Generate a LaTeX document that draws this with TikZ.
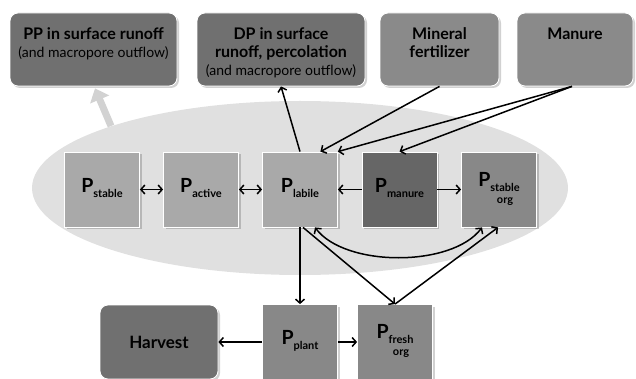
\documentclass[tikz,border=0pt]{standalone}
\usepackage{fontspec}
\setmainfont{Lato}
\usetikzlibrary{arrows.meta,positioning,shadows}
\definecolor{poolbg}{HTML}{E0E0E0}
\definecolor{lightpool}{HTML}{A9A9A9}
\definecolor{midpool}{HTML}{888888}
\definecolor{darkpool}{HTML}{666666}
\definecolor{lossbox}{HTML}{707070}
\definecolor{inbox}{HTML}{8A8A8A}
\definecolor{flowgray}{HTML}{D2D2D2}
\tikzset{
  sq/.style={draw=white,line width=0.8pt,minimum width=75pt,minimum height=75pt,inner sep=0pt,
    drop shadow={shadow xshift=2pt,shadow yshift=-2pt,fill=black,opacity=0.18}},
  topbox/.style={draw=white,line width=0.8pt,rounded corners=8pt,minimum height=73pt,inner sep=0pt,
    drop shadow={shadow xshift=2pt,shadow yshift=-2pt,fill=black,opacity=0.18}},
  boxtxt/.style={align=center,inner sep=0pt,font=\fontsize{14}{18}\selectfont},
  link/.style={line width=1.5pt,black,>={Straight Barb[length=4pt,width=9pt]}},
  outflow/.style={line width=7pt,flowgray,-{Triangle[length=12pt,width=20pt]}}
}
\newcommand{\psym}[1]{{\fontsize{19.5}{19.5}\selectfont\bfseries P}\raisebox{-5pt}{\fontsize{11}{12}\selectfont\bfseries\begin{tabular}[t]{@{}c@{}}#1\end{tabular}}}
\newcommand{\hd}[1]{{\fontsize{16}{18}\selectfont\bfseries #1}}
\begin{document}
\begin{tikzpicture}[x=1pt,y=-1pt]
  \useasboundingbox (0,0) rectangle (636,379);
  %soil pool area
  \fill[poolbg] (300,188) ellipse (268 and 87);

  %loss and input boxes on top
  \node[topbox,fill=lossbox,minimum width=167pt] (pp) at (93.5,49.5) {};
  \node[topbox,fill=lossbox,minimum width=168pt] (dp) at (281,49.5) {};
  \node[topbox,fill=inbox,minimum width=119pt] (mineral) at (439.5,49.5) {};
  \node[topbox,fill=inbox,minimum width=116pt] (manure) at (575,49.5) {};
  \node[boxtxt,below=15pt of pp.north] (pptxt) {\hd{PP in surface runoff}\\(and macropore outflow)};
  \node[boxtxt,below=15pt of dp.north] (dptxt) {\hd{DP in surface}\\\hd{runoff, percolation}\\(and macropore outflow)};
  \node[boxtxt,below=15pt of mineral.north] (mineraltxt) {\hd{Mineral}\\\hd{fertilizer}};
  \node[boxtxt,below=15pt of manure.north] (manuretxt) {\hd{Manure}};

  %pools in the soil
  \node[sq,fill=lightpool] (stable) at (102,189.5) {\psym{stable}};
  \node[sq,fill=lightpool] (active) at (201,189.5) {\psym{active}};
  \node[sq,fill=lightpool] (labile) at (300,189.5) {\psym{labile}};
  \node[sq,fill=darkpool] (pmanure) at (399.5,189.5) {\psym{manure}};
  \node[sq,fill=midpool] (storg) at (499,189.5) {\psym{stable\\org}};

  %plant and harvest
  \node[topbox,fill=lossbox,minimum width=118pt,minimum height=74pt] (harvest) at (159,342)
    {\fontsize{17}{17}\selectfont\bfseries Harvest};
  \node[sq,fill=midpool] (plant) at (300,342) {\psym{plant}};
  \node[sq,fill=midpool] (fresh) at (395,342) {\psym{fresh\\org}};

  %thick arrow to particulate losses
  \coordinate (ppout) at (111,126);
  \draw[outflow] (ppout) -- ([xshift=1.5pt,yshift=-2pt]pp.south);

  %flows between pools
  \draw[link,<->] (stable) -- (active);
  \draw[link,<->] (active) -- (labile);
  \draw[link,->] (pmanure) -- (labile);
  \draw[link,->] (pmanure) -- (storg);
  \draw[link,->] (labile.north) -- (dp.south);
  \draw[link,->] (mineral.south) -- ([xshift=-17.5pt]labile.north east);
  \draw[link,->] ([xshift=-3pt]manure.south) -- (labile.north east);
  \draw[link,->] ([xshift=-3pt]manure.south) -- (pmanure.north);
  \draw[link,->] (labile.south) -- (plant.north);
  \draw[link,->] ([xshift=3pt]labile.south) -- (fresh.north);
  \draw[link,->] (fresh.north) -- ([xshift=-1pt]storg.south);
  \draw[link,<->] ([xshift=15pt]labile.south)
     .. controls ([xshift=45pt,yshift=-40pt]labile.south) and ([xshift=-47pt,yshift=-40pt]storg.south)
     .. ([xshift=-17pt]storg.south);
  \draw[link,->] (plant) -- (harvest);
  \draw[link,->] (plant) -- (fresh);
\end{tikzpicture}
\end{document}
